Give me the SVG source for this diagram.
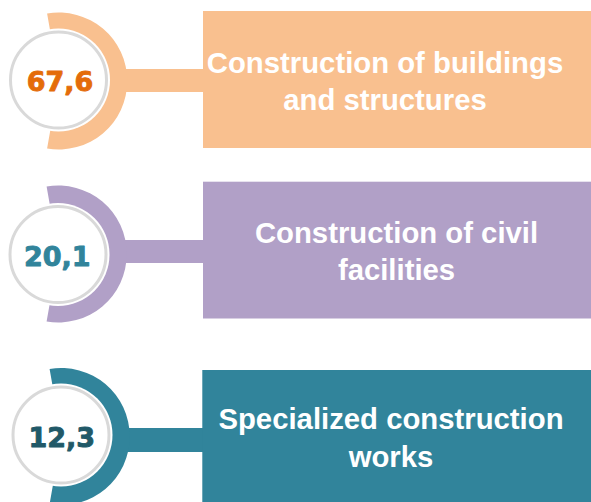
<svg xmlns="http://www.w3.org/2000/svg" width="591" height="502" viewBox="0 0 591 502">
  <style>
    .lbl { font-family: "Liberation Sans", Arial, sans-serif; font-weight: bold; font-size: 29.3px; fill: #FFFFFF; text-anchor: middle; }
    .num { font-family: "DejaVu Sans", "Liberation Sans", sans-serif; font-weight: bold; font-size: 27px; text-anchor: middle; stroke-width: 0.9; stroke-linejoin: round; }
    .halo { fill: #FFFFFF; }
    .disc { fill: #FFFFFF; stroke: #D9D9D9; stroke-width: 3; }
    .c1 { fill: #F9C08F; }
    .c2 { fill: #B1A0C7; }
    .c3 { fill: #31849B; }
  </style>
  <rect width="591" height="502" fill="#FFFFFF"/>

  <g id="connectors">
    <rect class="c1" x="115" y="69" width="90" height="23"/>
    <rect class="c2" x="115" y="240" width="90" height="23"/>
    <rect class="c3" x="115" y="428" width="90" height="24"/>
  </g>

  <g id="node-1">
    <path class="c1" d="M59,81 L47.1,13.5 A68.5,68.5 0 1 1 47.1,148.5 Z"/>
    <circle class="halo" cx="58.5" cy="80" r="51.5"/>
    <circle class="disc" cx="58.5" cy="80" r="48"/>
    <text class="num" x="60" y="90.5" style="fill:#E46C0A;stroke:#E46C0A">67,6</text>
    <rect class="c1" x="203" y="11" width="388" height="137"/>
    <text class="lbl" x="385" y="72.7">Construction of buildings</text>
    <text class="lbl" x="385" y="110">and structures</text>
  </g>

  <g id="node-2">
    <path class="c2" d="M58.5,254 L46.6,186.5 A68.5,68.5 0 1 1 46.6,321.5 Z"/>
    <circle class="halo" cx="58" cy="254.5" r="51.5"/>
    <circle class="disc" cx="58" cy="254.5" r="48"/>
    <text class="num" x="57.3" y="265.5" style="fill:#31849B;stroke:#31849B">20,1</text>
    <rect class="c2" x="203" y="181.7" width="388" height="136.8"/>
    <text class="lbl" x="396.5" y="243.3">Construction of civil</text>
    <text class="lbl" x="396.5" y="280">facilities</text>
  </g>

  <g id="node-3">
    <path class="c3" d="M61.5,436.5 L49.6,369 A68.5,68.5 0 1 1 49.6,504 Z"/>
    <circle class="halo" cx="61" cy="435" r="51.5"/>
    <circle class="disc" cx="61" cy="435" r="48"/>
    <text class="num" x="61.7" y="446.5" style="fill:#215968;stroke:#215968">12,3</text>
    <rect class="c3" x="202.3" y="370" width="388.7" height="132"/>
    <text class="lbl" x="391" y="429">Specialized construction</text>
    <text class="lbl" x="391" y="466.7">works</text>
  </g>
</svg>
